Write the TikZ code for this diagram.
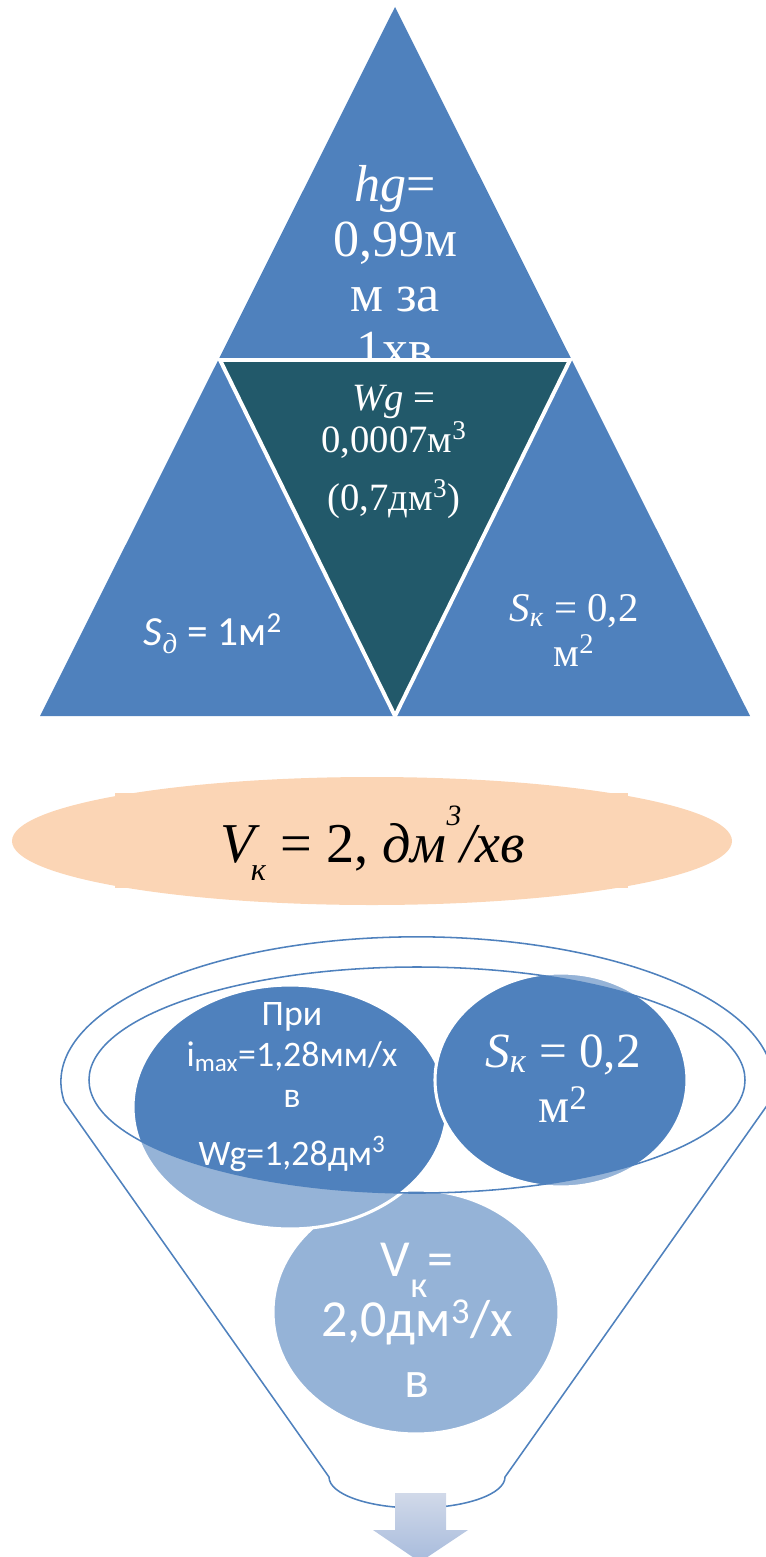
\documentclass[tikz,border=0pt]{standalone}
\usepackage{fontspec}
\setmainfont{Liberation Serif}
\newfontfamily\calibri{Carlito}
\usetikzlibrary{shapes.geometric}

\definecolor{pyrblue}{RGB}{79,129,189}
\definecolor{pyrteal}{RGB}{34,89,106}
\definecolor{peach}{RGB}{251,213,181}
\definecolor{funlight}{RGB}{149,179,215}
\definecolor{arrtop}{RGB}{209,217,233}
\definecolor{arrbot}{RGB}{167,187,220}

\newcommand{\fsz}[2]{\fontsize{#1}{#2}\selectfont}

\begin{document}
\begin{tikzpicture}[x=0.025cm, y=-0.025cm,
  txt/.style={text=white, align=center, inner sep=0pt, anchor=base},
  funline/.style={draw=pyrblue, line width=1.1pt},
  gap/.style={draw=white, line width=2.2pt}]
  \useasboundingbox (0,0) rectangle (765,1557);

  % pyramid (nodes anchored at the baseline of their last line)
  \fill[pyrblue] (395,7) -- (40,716) -- (750,716) -- cycle;
  \node[txt, font=\fsz{37}{39}] (hg) at (395,366)
    {\textit{hg}=\\0,99м\\м за\\1хв};
  \filldraw[fill=pyrteal, draw=white, line width=2.8pt, line join=miter]
    (220,360) -- (570,360) -- (395,716) -- cycle;
  \node[txt, font=\fsz{27.5}{30}] (wg) at (394,510)
    {\textit{Wg} =\\0,0007м\textsuperscript{3}\\[11pt](0,7дм\textsuperscript{3})};
  \node[txt, font=\calibri\fsz{29.5}{36}] (sd) at (213,645)
    {\textit{S}\textsubscript{\rmfamily\itshape д} = 1м\textsuperscript{2}};
  \node[txt, font=\fsz{29}{32}] (sk) at (574,666)
    {\textit{S}\textsubscript{\textit{к}} = 0,2\\м\textsuperscript{2}};

  % middle ellipse
  \fill[peach] (115,793) rectangle (628,888);
  \fill[peach] (372,841) ellipse [x radius=360, y radius=64];
  \node[inner sep=0pt, anchor=base, font=\fsz{40}{46}] (vk) at (373,862)
    {\textit{V}\kern-7pt\raisebox{-13pt}{\fsz{23}{23}\textit{к}} = 2, \textit{дм}\raisebox{26pt}{\fsz{21}{21}\textit{3}}\kern-1pt\textit{/хв}};

  % funnel circles
  \foreach \cx/\cy/\rx/\ry in {416/1312/143/122, 290/1107/157/122, 561/1080/126/107}
    \filldraw[fill=funlight, gap] (\cx,\cy) ellipse [x radius=\rx, y radius=\ry];
  \begin{scope}
    \clip (417,1080) ellipse [x radius=328, y radius=113];
    \foreach \cx/\cy/\rx/\ry in {416/1312/143/122, 290/1107/157/122, 561/1080/126/107}
      \filldraw[fill=pyrblue, gap] (\cx,\cy) ellipse [x radius=\rx, y radius=\ry];
  \end{scope}
  \draw[funline] (417,1080) ellipse [x radius=328, y radius=113];
  \draw[funline] (64.4,1102) arc [start angle=172, end angle=368, x radius=356, y radius=145]
    -- (505,1477) arc [start angle=0, end angle=180, x radius=88, y radius=31] -- cycle;

  \node[txt, font=\calibri\fsz{25.5}{29}] (pri) at (292,1165)
    {При\\i\textsubscript{max}=1,28мм/х\\в\\[12pt]Wg=1,28дм\textsuperscript{3}};
  \node[txt, font=\fsz{35}{39}] (skf) at (563,1122)
    {\textit{S}\textsubscript{\textit{к}} = 0,2\\м\textsuperscript{2}};
  \node[txt, font=\calibri\fsz{37}{43}] (vkf) at (417,1397)
    {V\raisebox{-0.42em}{\fsz{26}{26}к}=\\2,0дм\textsuperscript{3}/х\\в};

  % arrow
  \shade[top color=arrtop, bottom color=arrbot]
    (395,1493) -- (446,1493) -- (446,1530) -- (468,1530) -- (420,1562)
    -- (373,1530) -- (395,1530) -- cycle;
\end{tikzpicture}
\end{document}
